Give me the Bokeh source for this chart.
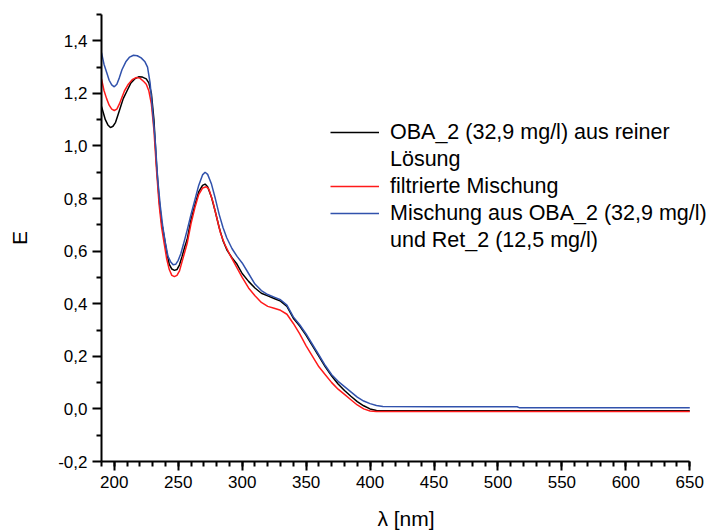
from bokeh.plotting import figure
from bokeh.models import Range1d, FixedTicker, Legend, LegendItem, CustomJSTickFormatter
from bokeh.embed import file_html
from bokeh.resources import INLINE

# ---- data ----
black_nm = [190, 193, 195, 197, 199, 201, 203, 205, 207, 210, 213, 216, 219, 222, 225, 227, 229, 231, 233, 235, 237, 239, 241, 243, 245, 247, 249, 251, 253, 255, 257, 260, 263, 266, 269, 271, 273, 276, 279, 282, 285, 288, 292, 296, 300, 305, 310, 315, 320, 325, 330, 335, 340, 345, 350, 355, 360, 365, 370, 375, 380, 385, 390, 395, 400, 405, 410, 450, 500, 550, 600, 650]
black_E = [1.15, 1.10, 1.08, 1.07, 1.075, 1.09, 1.12, 1.15, 1.18, 1.21, 1.24, 1.255, 1.263, 1.262, 1.255, 1.24, 1.20, 1.10, 0.93, 0.80, 0.71, 0.655, 0.595, 0.55, 0.532, 0.527, 0.53, 0.548, 0.58, 0.615, 0.645, 0.72, 0.775, 0.825, 0.85, 0.855, 0.845, 0.805, 0.75, 0.69, 0.64, 0.605, 0.575, 0.55, 0.515, 0.485, 0.46, 0.44, 0.43, 0.42, 0.41, 0.39, 0.345, 0.315, 0.28, 0.24, 0.20, 0.16, 0.125, 0.095, 0.07, 0.048, 0.028, 0.012, 0.0, -0.006, -0.007, -0.007, -0.007, -0.007, -0.007, -0.007]

red_nm = [190, 192, 194, 196, 198, 200, 202, 204, 206, 208, 211, 214, 217, 220, 223, 225, 227, 229, 231, 233, 235, 237, 239, 241, 243, 245, 247, 249, 251, 253, 255, 257, 260, 263, 266, 269, 272, 274, 277, 280, 283, 286, 290, 295, 300, 305, 310, 315, 320, 325, 330, 335, 340, 345, 350, 355, 360, 365, 370, 375, 380, 385, 390, 395, 400, 405, 450, 500, 550, 600, 650]
red_E = [1.255, 1.21, 1.18, 1.155, 1.14, 1.135, 1.14, 1.16, 1.185, 1.21, 1.235, 1.252, 1.26, 1.258, 1.245, 1.235, 1.21, 1.16, 1.06, 0.91, 0.78, 0.69, 0.63, 0.57, 0.53, 0.508, 0.503, 0.508, 0.525, 0.56, 0.595, 0.63, 0.705, 0.765, 0.815, 0.84, 0.845, 0.835, 0.79, 0.73, 0.67, 0.63, 0.59, 0.545, 0.50, 0.46, 0.43, 0.405, 0.39, 0.383, 0.375, 0.36, 0.325, 0.285, 0.24, 0.20, 0.16, 0.13, 0.10, 0.075, 0.055, 0.035, 0.015, 0.0, -0.008, -0.01, -0.01, -0.01, -0.01, -0.01, -0.01]

blue_nm = [190, 192, 194, 196, 198, 200, 202, 204, 206, 209, 212, 215, 218, 221, 224, 226, 228, 230, 232, 234, 236, 238, 240, 242, 244, 246, 248, 250, 252, 254, 257, 260, 263, 266, 269, 271, 273, 276, 279, 282, 285, 288, 292, 296, 300, 305, 310, 315, 320, 325, 330, 335, 340, 345, 350, 355, 360, 365, 370, 375, 380, 385, 390, 395, 400, 405, 410, 450, 515, 517, 550, 600, 650]
blue_E = [1.355, 1.31, 1.28, 1.25, 1.232, 1.225, 1.235, 1.26, 1.29, 1.32, 1.338, 1.345, 1.343, 1.335, 1.32, 1.30, 1.24, 1.13, 1.02, 0.87, 0.77, 0.69, 0.63, 0.58, 0.56, 0.548, 0.55, 0.565, 0.59, 0.625, 0.68, 0.74, 0.795, 0.85, 0.89, 0.90, 0.892, 0.855, 0.80, 0.74, 0.69, 0.65, 0.61, 0.58, 0.555, 0.515, 0.475, 0.45, 0.435, 0.425, 0.415, 0.395, 0.35, 0.32, 0.285, 0.245, 0.205, 0.165, 0.13, 0.105, 0.085, 0.065, 0.045, 0.03, 0.02, 0.013, 0.009, 0.008, 0.008, 0.004, 0.004, 0.004, 0.004]

x_ticks = [200, 250, 300, 350, 400, 450, 500, 550, 600, 650]
x_tick_labels = ["200", "250", "300", "350", "400", "450", "500", "550", "600", "650"]
x_minor = list(range(190, 651, 10))
y_ticks = [-0.2, 0.0, 0.2, 0.4, 0.6, 0.8, 1.0, 1.2, 1.4]
y_tick_labels = ["-0,2", "0,0", "0,2", "0,4", "0,6", "0,8", "1,0", "1,2", "1,4"]
y_minor = [-0.1, 0.1, 0.3, 0.5, 0.7, 0.9, 1.1, 1.3, 1.5]

labels = ["OBA_2 (32,9 mg/l) aus reiner", "Lösung", "filtrierte Mischung",
          "Mischung aus OBA_2 (32,9 mg/l)", "und Ret_2 (12,5 mg/l)"]

FONT = "Liberation Sans"
BLUE = "#3152ac"
RED = "#ff1a1a"

# frame extends to the right edge so the legend text is not clipped;
# the x axis itself is bounded to 190..650
p = figure(width=710, height=532, x_range=Range1d(190, 666.2), y_range=Range1d(-0.2, 1.5),
           output_backend="svg", toolbar_location=None,
           min_border_left=101, min_border_right=0, min_border_top=14, min_border_bottom=70)
p.grid.visible = False
p.outline_line_color = None
p.background_fill_color = "white"
p.border_fill_color = "white"

fmt_code = "const i = tv.findIndex(t => Math.abs(t - tick) < 1e-9); return i >= 0 ? tl[i] : '';"
p.xaxis.ticker = FixedTicker(ticks=x_ticks, minor_ticks=x_minor)
p.xaxis.formatter = CustomJSTickFormatter(args=dict(tv=x_ticks, tl=x_tick_labels), code=fmt_code)
p.xaxis.bounds = (190, 650)
p.yaxis.ticker = FixedTicker(ticks=y_ticks, minor_ticks=y_minor)
p.yaxis.formatter = CustomJSTickFormatter(args=dict(tv=y_ticks, tl=y_tick_labels), code=fmt_code)

for ax in (p.xaxis[0], p.yaxis[0]):
    ax.axis_line_width = 2
    ax.major_tick_line_width = 2
    ax.minor_tick_line_width = 2
    ax.major_tick_in = 0
    ax.major_tick_out = 9
    ax.minor_tick_in = 0
    ax.minor_tick_out = 5
    ax.major_label_text_font = FONT
    ax.major_label_text_font_size = "17px"
    ax.major_label_text_color = "black"
    ax.axis_label_text_font = FONT
    ax.axis_label_text_font_size = "21px"
    ax.axis_label_text_font_style = "normal"
    ax.axis_label_text_color = "black"
    ax.major_label_standoff = 5

p.xaxis.axis_label = "λ [nm]"
p.xaxis.axis_label_standoff = 16
p.xaxis.axis_label_align = "center"
p.yaxis.axis_label = "E"
p.yaxis.axis_label_standoff = 24
p.yaxis.major_label_orientation = "horizontal"

r_black = p.line(black_nm, black_E, line_color="black", line_width=1.5)
r_red = p.line(red_nm, red_E, line_color=RED, line_width=1.5)
r_blue = p.line(blue_nm, blue_E, line_color=BLUE, line_width=1.5)
r_blank = p.line([], [], line_alpha=0)

legend = Legend(items=[
    LegendItem(label=labels[0], renderers=[r_black]),
    LegendItem(label=labels[1], renderers=[r_blank]),
    LegendItem(label=labels[2], renderers=[r_red]),
    LegendItem(label=labels[3], renderers=[r_blue]),
    LegendItem(label=labels[4], renderers=[r_blank]),
], location=(229, 208))
legend.padding = 0
legend.margin = 0
legend.border_line_alpha = 0
legend.background_fill_alpha = 0
legend.glyph_width = 49
legend.glyph_height = 26
legend.label_height = 26
legend.spacing = 1
legend.label_standoff = 11
legend.label_text_font = FONT
legend.label_text_font_size = "21.5px"
legend.label_text_color = "black"
p.add_layout(legend)

open("out.html", "w").write(file_html(p, INLINE))
